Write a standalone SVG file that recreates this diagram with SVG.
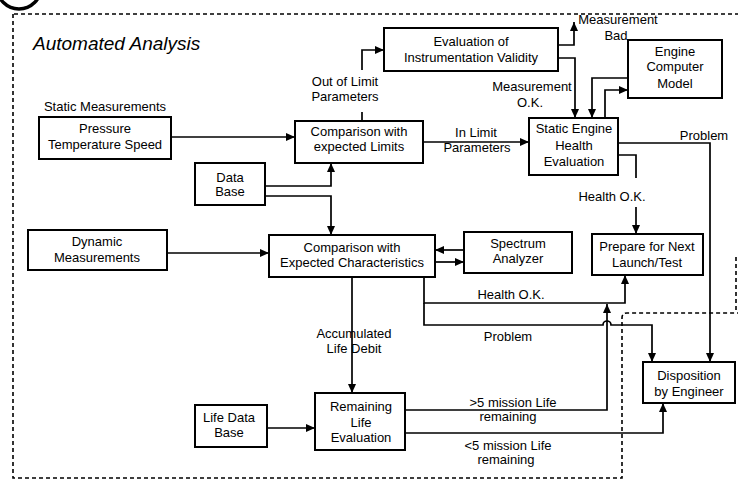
<svg xmlns="http://www.w3.org/2000/svg" width="738" height="481" viewBox="0 0 738 481">
<style>
  .bx{fill:#fff;stroke:#000;stroke-width:2}
  .t{font-family:"Liberation Sans",Arial,sans-serif;font-size:13px;fill:#000;text-anchor:middle}
  .c{fill:none;stroke:#000;stroke-width:1.7}
  .d{fill:none;stroke:#000;stroke-width:1.6;stroke-dasharray:4 3}
</style>
<defs>
  <marker id="ah" markerUnits="userSpaceOnUse" markerWidth="9" markerHeight="8" refX="9" refY="4" orient="auto">
    <path d="M0,0 L9,4 L0,8 z" fill="#000"/>
  </marker>
</defs>
<rect width="738" height="481" fill="#fff"/>

<g id="frame">
  <circle cx="19" cy="-13" r="22" fill="none" stroke="#000" stroke-width="3.5"/>
  <path class="d" d="M14,14 H738"/>
  <path class="d" d="M13,14 V478 H622 V318 Q622,313 627,313 H738"/>
  <path class="d" d="M736,257 V313"/>
  <text x="33" y="50" font-family="Liberation Sans,Arial,sans-serif" font-size="19" font-style="italic">Automated Analysis</text>
</g>

<g id="connectors">
  <path class="c" d="M171,137 H295" marker-end="url(#ah)"/>
  <path class="c" d="M362,121 V112"/>
  <path class="c" d="M362,70 V50 H384" marker-end="url(#ah)"/>
  <path class="c" d="M558,45 H574 V22" marker-end="url(#ah)"/>
  <path class="c" d="M558,58 H575 V118" marker-end="url(#ah)"/>
  <path class="c" d="M628,78 H592 V118" marker-end="url(#ah)"/>
  <path class="c" d="M605,118 V90 H628" marker-end="url(#ah)"/>
  <path class="c" d="M423,142 H529" marker-end="url(#ah)"/>
  <path class="c" d="M618,143 H710 V362" marker-end="url(#ah)"/>
  <path class="c" d="M618,155 H636 V178"/>
  <path class="c" d="M636,207 V234" marker-end="url(#ah)"/>
  <path class="c" d="M265,186 H331 V163" marker-end="url(#ah)"/>
  <path class="c" d="M265,196 H331 V235" marker-end="url(#ah)"/>
  <path class="c" d="M167,253 H269" marker-end="url(#ah)"/>
  <path class="c" d="M464,250 H435" marker-end="url(#ah)"/>
  <path class="c" d="M435,262 H464" marker-end="url(#ah)"/>
  <path class="c" d="M352,277 V393" marker-end="url(#ah)"/>
  <path class="c" d="M424,277 V303 H625 V275" marker-end="url(#ah)"/>
  <path class="c" d="M424,303 V325 H603 A4,4 0 0 1 611,325 H652 V362" marker-end="url(#ah)"/>
  <path class="c" d="M267,428 H315" marker-end="url(#ah)"/>
  <path class="c" d="M405,410 H607 V304" marker-end="url(#ah)"/>
  <path class="c" d="M405,433 H663 V403" marker-end="url(#ah)"/>

  <text class="t" x="345" y="86">Out of Limit</text>
  <text class="t" x="345" y="101">Parameters</text>
  <text class="t" x="618" y="24">Measurement</text>
  <text class="t" x="616" y="40">Bad</text>
  <text class="t" x="532" y="91">Measurement</text>
  <text class="t" x="530" y="107">O.K.</text>
  <text class="t" x="476" y="137">In Limit</text>
  <text class="t" x="477" y="152">Parameters</text>
  <text class="t" x="704" y="140">Problem</text>
  <text class="t" x="612" y="201">Health O.K.</text>
  <text class="t" x="511" y="299">Health O.K.</text>
  <text class="t" x="508" y="341">Problem</text>
  <text class="t" x="354" y="338">Accumulated</text>
  <text class="t" x="354" y="353">Life Debit</text>
  <text class="t" x="513" y="407">&gt;5 mission Life</text>
  <text class="t" x="508" y="421">remaining</text>
  <text class="t" x="508" y="450">&lt;5 mission Life</text>
  <text class="t" x="506" y="464">remaining</text>
</g>

<g id="pressure">
  <text class="t" x="105" y="111">Static Measurements</text>
  <rect class="bx" x="39" y="117" width="132" height="42"/>
  <text class="t" x="105" y="133">Pressure</text>
  <text class="t" x="105" y="149">Temperature Speed</text>
</g>
<g id="comp-limits">
  <rect class="bx" x="295" y="121" width="128" height="42"/>
  <text class="t" x="359" y="136">Comparison with</text>
  <text class="t" x="359" y="151">expected Limits</text>
</g>
<g id="eval-instr">
  <rect class="bx" x="384" y="28" width="174" height="43"/>
  <text class="t" x="471" y="46">Evaluation of</text>
  <text class="t" x="471" y="62">Instrumentation Validity</text>
</g>
<g id="engine-model">
  <rect class="bx" x="628" y="40" width="94" height="58"/>
  <text class="t" x="675" y="56">Engine</text>
  <text class="t" x="675" y="71">Computer</text>
  <text class="t" x="675" y="88">Model</text>
</g>
<g id="static-engine">
  <rect class="bx" x="529" y="118" width="89" height="57"/>
  <text class="t" x="574" y="133">Static Engine</text>
  <text class="t" x="574" y="150">Health</text>
  <text class="t" x="574" y="166">Evaluation</text>
</g>
<g id="data-base">
  <rect class="bx" x="195" y="163" width="70" height="42"/>
  <text class="t" x="230" y="182">Data</text>
  <text class="t" x="230" y="196">Base</text>
</g>
<g id="dynamic">
  <rect class="bx" x="28" y="230" width="139" height="40"/>
  <text class="t" x="97" y="246">Dynamic</text>
  <text class="t" x="97" y="262">Measurements</text>
</g>
<g id="comp-expected">
  <rect class="bx" x="269" y="235" width="166" height="42"/>
  <text class="t" x="352" y="252">Comparison with</text>
  <text class="t" x="352" y="267">Expected Characteristics</text>
</g>
<g id="spectrum">
  <rect class="bx" x="464" y="232" width="108" height="41"/>
  <text class="t" x="518" y="248">Spectrum</text>
  <text class="t" x="518" y="263">Analyzer</text>
</g>
<g id="prepare">
  <rect class="bx" x="592" y="234" width="111" height="41"/>
  <text class="t" x="647" y="251">Prepare for Next</text>
  <text class="t" x="647" y="267">Launch/Test</text>
</g>
<g id="disposition">
  <rect class="bx" x="643" y="362" width="92" height="41"/>
  <text class="t" x="689" y="380">Disposition</text>
  <text class="t" x="689" y="396">by Engineer</text>
</g>
<g id="remaining-life">
  <rect class="bx" x="315" y="393" width="90" height="57"/>
  <text class="t" x="361" y="411">Remaining</text>
  <text class="t" x="361" y="427">Life</text>
  <text class="t" x="361" y="442">Evaluation</text>
</g>
<g id="life-data-base">
  <rect class="bx" x="195" y="405" width="72" height="42"/>
  <text class="t" x="229" y="422">Life Data</text>
  <text class="t" x="229" y="437">Base</text>
</g>
</svg>
